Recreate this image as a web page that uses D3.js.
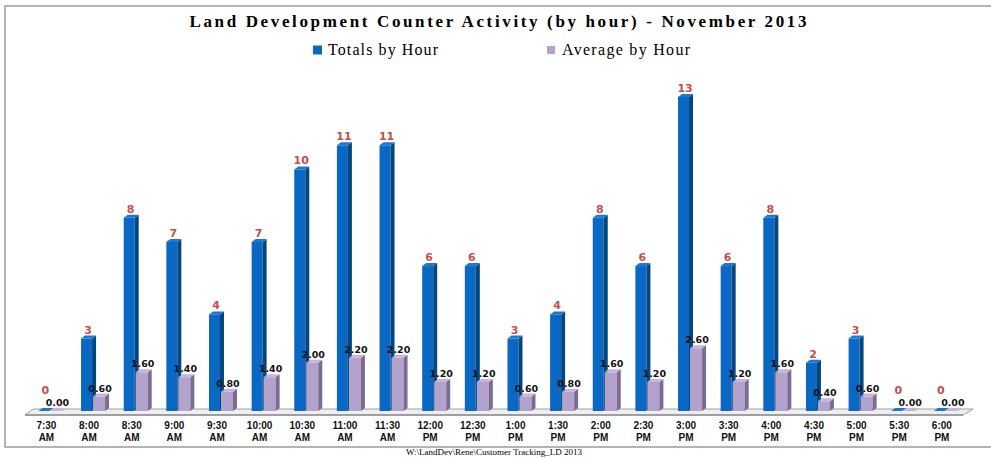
<!DOCTYPE html>
<html>
<head>
<meta charset="utf-8">
<script src="https://cdn.jsdelivr.net/npm/d3@7"></script>
<style>
body { margin: 0; background: #fff; }
svg { display: block; }
</style>
</head>
<body>
<div id="svg_container"></div>
<script>
/* -----------------------
data
------------------------- */

var categories = ["7:30 AM","8:00 AM","8:30 AM","9:00 AM","9:30 AM","10:00 AM","10:30 AM","11:00 AM","11:30 AM",
	"12:00 PM","12:30 PM","1:00 PM","1:30 PM","2:00 PM","2:30 PM","3:00 PM","3:30 PM","4:00 PM","4:30 PM",
	"5:00 PM","5:30 PM","6:00 PM"];
var totals = [0,3,8,7,4,7,10,11,11,6,6,3,4,8,6,13,6,8,2,3,0,0];
var averages = [0.00,0.60,1.60,1.40,0.80,1.40,2.00,2.20,2.20,1.20,1.20,0.60,0.80,1.60,1.20,2.60,1.20,1.60,0.40,0.60,0.00,0.00];
var seriesNames = ["Totals by Hour", "Average by Hour"];

/* -----------------------
main variables
------------------------- */

var width = 991;
var height = 458;
var depth = 4, lift = 3;

var colors = {
	total: {front: "#0868c4", side: "#06467f", top: "#1b78d0"},
	avg: {front: "#b3a2cc", side: "#7c6c94", top: "#c4b6da"}
};

var svg = d3.select("#svg_container")
	.append("svg")
	.attr("width", width)
	.attr("height", height);

// frame
svg.append("rect")
	.attr("x", 5).attr("y", 6)
	.attr("width", 1000).attr("height", 441)
	.attr("fill", "none")
	.attr("stroke", "#b4b4b4")
	.attr("stroke-width", 2);

/* -----------------------
scales
------------------------- */

var x = d3.scaleBand()
	.domain(categories)
	.range([29.1, 967.2])
	.paddingInner(0.437)
	.paddingOuter(0.2185);

var x1 = d3.scaleBand()
	.domain(["total", "avg"])
	.range([0, x.bandwidth()]);

var y = d3.scaleLinear()
	.domain([0, 13])
	.range([411, 97]);

/* -----------------------
title + legend
------------------------- */

svg.append("text")
	.attr("x", 498).attr("y", 27)
	.attr("text-anchor", "middle")
	.attr("font-family", "Liberation Serif, serif")
	.attr("font-weight", "bold")
	.attr("font-size", 17)
	.attr("textLength", 617)
	.attr("lengthAdjust", "spacing")
	.text("Land Development Counter Activity (by hour) - November 2013");

var legend = [
	{name: seriesNames[0], color: colors.total.front, x: 313, len: 110, sq: 9},
	{name: seriesNames[1], color: colors.avg.front, x: 547, len: 128, sq: 8}
];

var lg = svg.selectAll(".legend")
	.data(legend)
	.enter()
	.append("g")
	.attr("class", "legend");

lg.append("rect")
	.attr("x", function(d) { return d.x; })
	.attr("y", function(d) { return 50 - d.sq / 2; })
	.attr("width", function(d) { return d.sq; })
	.attr("height", function(d) { return d.sq; })
	.attr("fill", function(d) { return d.color; });

lg.append("text")
	.attr("x", function(d) { return d.x + 15; })
	.attr("y", 55)
	.attr("font-family", "Liberation Serif, serif")
	.attr("font-size", 16)
	.attr("textLength", function(d) { return d.len; })
	.attr("lengthAdjust", "spacing")
	.text(function(d) { return d.name; });

/* -----------------------
floor
------------------------- */

var x0 = x.range()[0], xEnd = x.range()[1];
svg.append("polygon")
	.attr("points", [[x0 + 4, y(0) - 2], [xEnd + 6, y(0) - 2], [xEnd - 4, y(0) + 4], [x0 - 4, y(0) + 4]].join(" "))
	.attr("fill", "#efefef")
	.attr("stroke", "#a0a0a0")
	.attr("stroke-width", 1);
svg.append("line")
	.attr("x1", x0 - 4).attr("x2", xEnd - 4)
	.attr("y1", y(0) + 4).attr("y2", y(0) + 4)
	.attr("stroke", "#909090")
	.attr("stroke-width", 1.5);

/* -----------------------
bars
------------------------- */

var rows = categories.map(function(c, i) {
	return {cat: c, total: totals[i], avg: averages[i]};
});

var plot = svg.append("g").attr("id", "d3_plot");

function bar3d(g, key, xpos, w, v) {
	var c = colors[key];
	var top = y(v), base = y(0);
	g.append("rect")
		.attr("x", xpos).attr("y", top)
		.attr("width", w).attr("height", base - top)
		.attr("fill", c.front);
	g.append("polygon")
		.attr("points", [[xpos + w, top], [xpos + w + depth, top - lift], [xpos + w + depth, base - lift], [xpos + w, base]].join(" "))
		.attr("fill", c.side);
	g.append("polygon")
		.attr("points", [[xpos, top], [xpos + w, top], [xpos + w + depth, top - lift], [xpos + depth, top - lift]].join(" "))
		.attr("fill", c.top);
}

var groups = plot.selectAll(".cat")
	.data(rows)
	.enter()
	.append("g")
	.attr("class", "cat")
	.attr("transform", function(d) { return "translate(" + x(d.cat) + ",0)"; });

groups.each(function(d) {
	var g = d3.select(this);
	bar3d(g, "total", x1("total"), x1.bandwidth() - 1, d.total);
	bar3d(g, "avg", x1("avg"), x1.bandwidth(), d.avg);
});

// value labels
groups.append("text")
	.attr("x", x1("total") + x1.bandwidth() / 2 + 1)
	.attr("y", function(d) { return y(d.total) - 5 - (d.total === 0 ? 12 : 0); })
	.attr("text-anchor", "middle")
	.attr("font-family", "DejaVu Sans, sans-serif")
	.attr("font-weight", "bold")
	.attr("font-size", 11)
	.attr("fill", "#c0504d")
	.text(function(d) { return d.total; });

groups.append("text")
	.attr("x", x1("avg") + x1.bandwidth() / 2 + 1)
	.attr("y", function(d) { return y(d.avg) - 5; })
	.attr("text-anchor", "middle")
	.attr("font-family", "DejaVu Sans, sans-serif")
	.attr("font-weight", "bold")
	.attr("font-size", 9.5)
	.attr("fill", "#111")
	.text(function(d) { return d3.format(".2f")(d.avg); });

/* -----------------------
category labels
------------------------- */

var catLabel = svg.append("g")
	.selectAll("text")
	.data(categories)
	.enter()
	.append("text")
	.attr("x", function(d) { return x(d) + x.bandwidth() / 2 - 4; })
	.attr("y", 429)
	.attr("text-anchor", "middle")
	.attr("font-family", "Liberation Sans, Arial, sans-serif")
	.attr("font-weight", "bold")
	.attr("font-size", 10)
	.attr("fill", "#111");

catLabel.each(function(d) {
	var parts = d.split(" ");
	var t = d3.select(this);
	t.append("tspan").attr("x", t.attr("x")).attr("dy", 0).text(parts[0]);
	t.append("tspan").attr("x", t.attr("x")).attr("dy", 12).text(parts[1]);
});

/* -----------------------
footer
------------------------- */

svg.append("text")
	.attr("x", 494).attr("y", 455)
	.attr("text-anchor", "middle")
	.attr("font-family", "Liberation Serif, serif")
	.attr("font-size", 9)
	.text("W:\\LandDev\\Rene\\Customer Tracking_LD 2013");
</script>
</body>
</html>
